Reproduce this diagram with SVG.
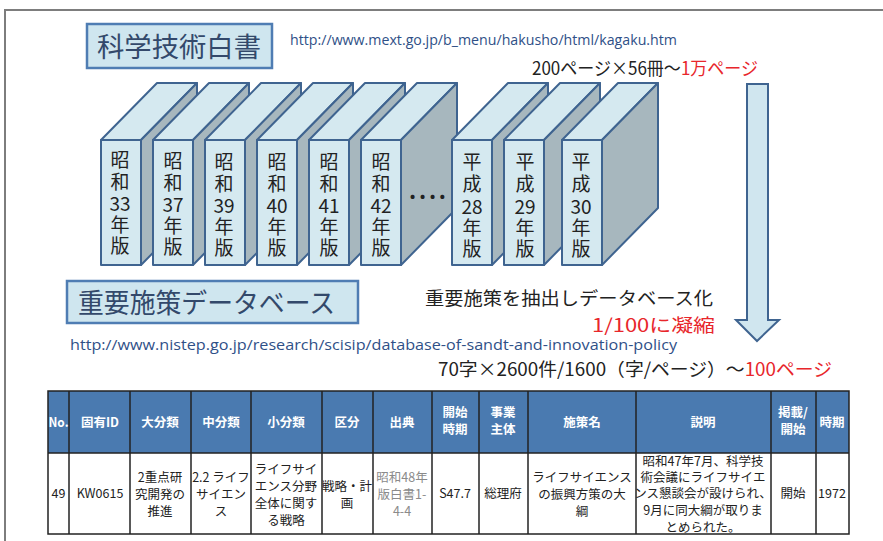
<svg xmlns="http://www.w3.org/2000/svg" width="883" height="541" viewBox="0 0 883 541">
  <defs>
    <style>
      .jp { font-family: "Noto Sans CJK JP", "Noto Sans", sans-serif; }
      .title { font-family: "Noto Sans CJK JP", sans-serif; font-size: 27px; fill: #33496b; }
      .tbox { fill: #cfe6ef; stroke: #4f7db3; stroke-width: 2.5; }
      .url { font-family: "Open Sans", "Noto Sans", sans-serif; font-size: 14px; fill: #2f5087; }
      .note { font-family: "Noto Sans CJK JP", sans-serif; font-size: 18px; fill: #222; }
      .red { fill: #e8262b; }
      .front { fill: #d5e9f0; stroke: #3f6490; stroke-width: 2; stroke-linejoin: round; }
      .top { fill: #d5e9f0; stroke: #3f6490; stroke-width: 2; stroke-linejoin: round; }
      .side { fill: #a7b7be; stroke: #3f6490; stroke-width: 2; stroke-linejoin: round; }
      .spine { font-family: "Noto Sans CJK JP", sans-serif; font-size: 19px; fill: #222; text-anchor: middle; }
      .hdr { fill: #4a7ab0; }
      .th { font-family: "Noto Sans CJK JP", sans-serif; font-size: 12.5px; font-weight: bold; fill: #ffffff; text-anchor: middle; }
      .td { font-family: "Noto Sans CJK JP", sans-serif; font-size: 12.5px; fill: #222; text-anchor: middle; }
      .grid { stroke: #222; stroke-width: 1.5; fill: none; }
    </style>
    <!-- one volume: front face, top face and side face, drawn from its front-left corner -->
    <g id="book">
      <polygon class="top" points="0,140 56,83 96,83 40,140"/>
      <polygon class="side" points="40,140 96,83 96,208 40,265"/>
      <rect class="front" x="0" y="140" width="40" height="125"/>
    </g>
  </defs>

  <rect width="883" height="541" fill="#ffffff"/>

  <!-- slide frame -->
  <path d="M5,541 V10 H883" fill="none" stroke="#7d7d7d" stroke-width="2"/>

  <!-- white paper heading -->
  <g id="white-paper-title">
    <rect class="tbox" x="87" y="24" width="185" height="44"/>
    <text class="title" x="97" y="57" textLength="164" lengthAdjust="spacingAndGlyphs">科学技術白書</text>
  </g>
  <text id="url-mext" class="url" x="290" y="45" textLength="387" lengthAdjust="spacingAndGlyphs">http://www.mext.go.jp/b_menu/hakusho/html/kagaku.htm</text>
  <text id="pages-total" class="note" x="532" y="75" textLength="226" lengthAdjust="spacingAndGlyphs">200ページ×56冊〜<tspan class="red">1万ページ</tspan></text>

  <!-- row of volumes -->
  <g id="books">
    <g id="book-s33"><use href="#book" x="101"/>
      <text class="spine"><tspan x="120" y="167">昭</tspan><tspan x="120" y="189">和</tspan><tspan x="120" y="211">33</tspan><tspan x="120" y="232">年</tspan><tspan x="120" y="253">版</tspan></text></g>
    <g id="book-s37"><use href="#book" x="153"/>
      <text class="spine"><tspan x="173" y="168">昭</tspan><tspan x="173" y="190">和</tspan><tspan x="173" y="212">37</tspan><tspan x="173" y="233">年</tspan><tspan x="173" y="254">版</tspan></text></g>
    <g id="book-s39"><use href="#book" x="205"/>
      <text class="spine"><tspan x="224" y="169">昭</tspan><tspan x="224" y="191">和</tspan><tspan x="224" y="213">39</tspan><tspan x="224" y="234">年</tspan><tspan x="224" y="255">版</tspan></text></g>
    <g id="book-s40"><use href="#book" x="257"/>
      <text class="spine"><tspan x="277" y="169">昭</tspan><tspan x="277" y="191">和</tspan><tspan x="277" y="213">40</tspan><tspan x="277" y="234">年</tspan><tspan x="277" y="255">版</tspan></text></g>
    <g id="book-s41"><use href="#book" x="309"/>
      <text class="spine"><tspan x="329" y="169">昭</tspan><tspan x="329" y="191">和</tspan><tspan x="329" y="213">41</tspan><tspan x="329" y="234">年</tspan><tspan x="329" y="255">版</tspan></text></g>
    <g id="book-s42"><use href="#book" x="361"/>
      <text class="spine"><tspan x="381" y="169">昭</tspan><tspan x="381" y="191">和</tspan><tspan x="381" y="213">42</tspan><tspan x="381" y="234">年</tspan><tspan x="381" y="255">版</tspan></text></g>
    <text id="ellipsis" class="jp" x="409" y="199" font-size="22" font-weight="bold" fill="#222" textLength="37" lengthAdjust="spacing">....</text>
    <g id="book-h28"><use href="#book" x="452"/>
      <text class="spine"><tspan x="472" y="169">平</tspan><tspan x="472" y="191">成</tspan><tspan x="472" y="214">28</tspan><tspan x="472" y="235">年</tspan><tspan x="472" y="256">版</tspan></text></g>
    <g id="book-h29"><use href="#book" x="504"/>
      <text class="spine"><tspan x="525" y="169">平</tspan><tspan x="525" y="191">成</tspan><tspan x="525" y="214">29</tspan><tspan x="525" y="235">年</tspan><tspan x="525" y="256">版</tspan></text></g>
    <g id="book-h30"><use href="#book" x="562"/>
      <text class="spine"><tspan x="581" y="169">平</tspan><tspan x="581" y="191">成</tspan><tspan x="581" y="214">30</tspan><tspan x="581" y="235">年</tspan><tspan x="581" y="256">版</tspan></text></g>
  </g>

  <!-- condensation arrow -->
  <g id="connectors">
    <polygon points="747,84 768,84 768,320 779,320 757,341 736,320 747,320" fill="#d0e6ef" stroke="#3f6490" stroke-width="2" stroke-linejoin="miter"/>
  </g>

  <!-- policy database heading -->
  <g id="policy-db-title">
    <rect class="tbox" x="67" y="281" width="291" height="42"/>
    <text class="title" x="78" y="313" textLength="257" lengthAdjust="spacingAndGlyphs">重要施策データベース</text>
  </g>
  <text id="extract-note" class="note" x="425" y="305" textLength="288" lengthAdjust="spacingAndGlyphs">重要施策を抽出しデータベース化</text>
  <text id="ratio-note" class="note red" x="592" y="332" textLength="123" lengthAdjust="spacingAndGlyphs">1/100に凝縮</text>
  <text id="url-nistep" class="url" x="70" y="350" textLength="607" lengthAdjust="spacingAndGlyphs">http://www.nistep.go.jp/research/scisip/database-of-sandt-and-innovation-policy</text>
  <text id="pages-db" class="note" x="438" y="376" textLength="394" lengthAdjust="spacingAndGlyphs">70字×2600件/1600（字/ページ）〜<tspan class="red">100ページ</tspan></text>

  <!-- sample record table -->
  <g id="record-table">
    <rect class="hdr" x="48" y="391" width="801" height="62"/>
    <rect x="48" y="453" width="801" height="81" fill="#ffffff"/>
    <g class="grid">
      <rect x="48" y="391" width="801" height="143"/>
      <line x1="48" y1="453" x2="849" y2="453"/>
      <line x1="69" y1="391" x2="69" y2="534"/>
      <line x1="130" y1="391" x2="130" y2="534"/>
      <line x1="191" y1="391" x2="191" y2="534"/>
      <line x1="251" y1="391" x2="251" y2="534"/>
      <line x1="322" y1="391" x2="322" y2="534"/>
      <line x1="373" y1="391" x2="373" y2="534"/>
      <line x1="432" y1="391" x2="432" y2="534"/>
      <line x1="479" y1="391" x2="479" y2="534"/>
      <line x1="528" y1="391" x2="528" y2="534"/>
      <line x1="636" y1="391" x2="636" y2="534"/>
      <line x1="771" y1="391" x2="771" y2="534"/>
      <line x1="816" y1="391" x2="816" y2="534"/>
    </g>
    <g id="table-header">
      <text class="th" x="58.5" y="427" textLength="20" lengthAdjust="spacingAndGlyphs">No.</text>
      <text class="th" x="100" y="427">固有ID</text>
      <text class="th" x="160" y="427">大分類</text>
      <text class="th" x="221" y="427">中分類</text>
      <text class="th" x="286" y="427">小分類</text>
      <text class="th" x="347" y="427">区分</text>
      <text class="th" x="402" y="427">出典</text>
      <text class="th"><tspan x="455" y="417">開始</tspan><tspan x="455" y="434">時期</tspan></text>
      <text class="th"><tspan x="503" y="417">事業</tspan><tspan x="503" y="434">主体</tspan></text>
      <text class="th" x="582" y="427">施策名</text>
      <text class="th" x="703" y="427">説明</text>
      <text class="th"><tspan x="793" y="417">掲載/</tspan><tspan x="793" y="434">開始</tspan></text>
      <text class="th" x="832" y="427">時期</text>
    </g>
    <g id="table-row">
      <text class="td" x="58.5" y="498">49</text>
      <text class="td" x="100" y="498">KW0615</text>
      <text class="td"><tspan x="160" y="482">2重点研</tspan><tspan x="160" y="499">究開発の</tspan><tspan x="160" y="516">推進</tspan></text>
      <text class="td"><tspan x="221" y="482">2.2 ライフ</tspan><tspan x="221" y="499">サイエン</tspan><tspan x="221" y="516">ス</tspan></text>
      <text class="td"><tspan x="286" y="474">ライフサイ</tspan><tspan x="286" y="491">エンス分野</tspan><tspan x="286" y="508">全体に関す</tspan><tspan x="286" y="525">る戦略</tspan></text>
      <text class="td"><tspan x="347" y="491">戦略・計</tspan><tspan x="347" y="508">画</tspan></text>
      <text class="td" fill="#8a8a8a" style="fill:#8a8a8a"><tspan x="402" y="482">昭和48年</tspan><tspan x="402" y="499">版白書1-</tspan><tspan x="402" y="516">4-4</tspan></text>
      <text class="td" x="455" y="498">S47.7</text>
      <text class="td" x="503" y="498">総理府</text>
      <text class="td"><tspan x="582" y="482">ライフサイエンス</tspan><tspan x="582" y="499">の振興方策の大</tspan><tspan x="582" y="516">綱</tspan></text>
      <text class="td"><tspan x="703" y="466">昭和47年7月、科学技</tspan><tspan x="703" y="482">術会議にライフサイエ</tspan><tspan x="703" y="498">ンス懇談会が設けられ、</tspan><tspan x="703" y="515">9月に同大綱が取りま</tspan><tspan x="703" y="532">とめられた。</tspan></text>
      <text class="td" x="793" y="498">開始</text>
      <text class="td" x="832" y="498">1972</text>
    </g>
  </g>
</svg>
